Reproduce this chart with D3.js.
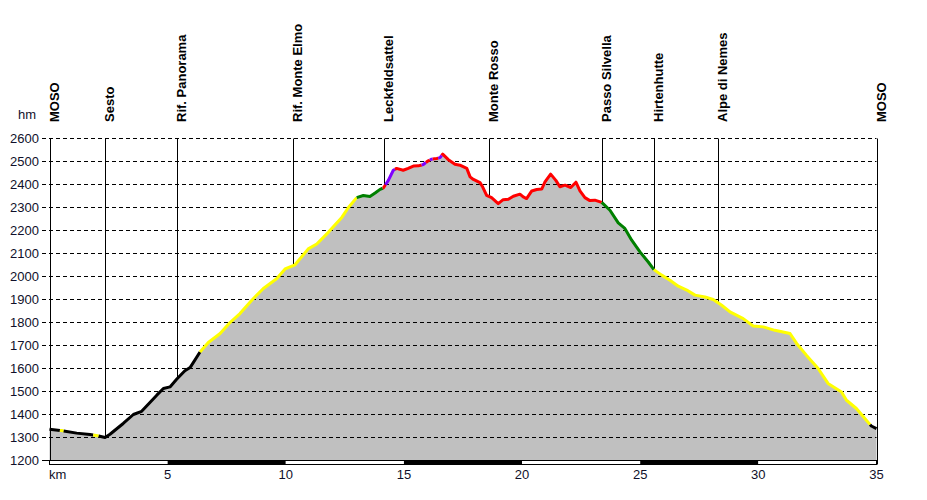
<!DOCTYPE html>
<html><head><meta charset="utf-8">
<script src="https://cdn.jsdelivr.net/npm/d3@7"></script>
<style>body{margin:0;background:#fff} svg{display:block}</style>
</head><body><svg id="c" width="927" height="500"></svg>
<script>
// ---- data ----
const distKm = [0, 0.52, 1.15, 1.71, 1.97, 2.35, 2.56, 3.12, 3.55, 3.90, 4.54, 4.82, 5.10, 5.38, 5.73, 5.95, 6.37, 6.72, 7.22, 7.64, 8.06, 8.56, 9.05, 9.61, 9.97, 10.39, 10.95, 11.31, 11.80, 12.01, 12.37, 12.65, 13.00, 13.28, 13.56, 13.78, 13.99, 14.13, 14.34, 14.55, 14.69, 14.97, 15.18, 15.40, 15.61, 15.82, 16.03, 16.17, 16.39, 16.53, 16.64, 16.88, 17.16, 17.37, 17.66, 17.80, 17.94, 18.22, 18.33, 18.50, 18.71, 18.99, 19.20, 19.42, 19.63, 19.91, 20.05, 20.19, 20.41, 20.62, 20.83, 20.97, 21.21, 21.43, 21.60, 21.82, 22.06, 22.28, 22.45, 22.66, 22.87, 23.08, 23.37, 23.72, 24.07, 24.35, 24.64, 24.99, 25.34, 25.58, 25.91, 26.26, 26.61, 26.97, 27.32, 27.74, 28.09, 28.45, 28.80, 29.36, 29.78, 30.21, 30.70, 31.34, 31.62, 32.04, 32.53, 32.95, 33.52, 33.73, 34.15, 34.57, 34.78, 35.0];
const elevM = [1336, 1330, 1319, 1313, 1309, 1300, 1314, 1361, 1400, 1414, 1484, 1513, 1520, 1553, 1590, 1604, 1672, 1713, 1752, 1800, 1839, 1897, 1948, 1990, 2033, 2051, 2120, 2141, 2192, 2216, 2257, 2300, 2343, 2352, 2348, 2363, 2379, 2385, 2418, 2462, 2470, 2462, 2470, 2480, 2481, 2487, 2503, 2510, 2513, 2517, 2532, 2508, 2488, 2484, 2470, 2433, 2422, 2408, 2390, 2353, 2343, 2317, 2334, 2336, 2349, 2358, 2346, 2339, 2372, 2378, 2380, 2411, 2445, 2418, 2390, 2397, 2387, 2410, 2372, 2343, 2330, 2332, 2322, 2288, 2233, 2209, 2158, 2107, 2063, 2030, 2006, 1984, 1958, 1941, 1919, 1911, 1900, 1875, 1846, 1817, 1785, 1781, 1766, 1752, 1709, 1657, 1600, 1535, 1498, 1462, 1426, 1375, 1350, 1339];
const segStartKm = [0, 0.44, 0.60, 1.85, 2.08, 6.37, 13.0, 14.10, 14.22, 14.62, 15.75, 15.93, 16.10, 16.22, 16.45, 16.60, 23.37, 25.58, 34.73];
const segColor = ["#000000", "#ffff00", "#000000", "#ffff00", "#000000", "#ffff00", "#008000", "#ff0000", "#8000ff", "#ff0000", "#8000ff", "#ff0000", "#8000ff", "#ff0000", "#8000ff", "#ff0000", "#008000", "#ffff00", "#000000"];
const waypointNames = ["MOSO", "Sesto", "Rif. Panorama", "Rif. Monte Elmo", "Leckfeldsattel", "Monte Rosso", "Passo Silvella", "Hirtenhutte", "Alpe di Nemes", "MOSO"];
const waypointKm = [0, 2.36, 5.38, 10.32, 14.17, 18.58, 23.39, 25.58, 28.30, 35];
const yTicks = [1200, 1300, 1400, 1500, 1600, 1700, 1800, 1900, 2000, 2100, 2200, 2300, 2400, 2500, 2600];
const xTicks = [5, 10, 15, 20, 25, 30, 35];
const barBreaks = [0, 5, 10, 15, 20, 25, 30, 35];

// ---- chart ----
const svg = d3.select("#c");
const x = d3.scaleLinear().domain([0, 35]).range([49.5, 876.5]);
const y = d3.scaleLinear().domain([1200, 2600]).range([460.5, 138.5]);
const pts = distKm.map((d, i) => [d, elevM[i]]);
const elevAt = k => {
  for (let i = 1; i < pts.length; i++) {
    if (k <= pts[i][0]) {
      const a = pts[i - 1], b = pts[i];
      const t = (k - a[0]) / (b[0] - a[0] || 1);
      return a[1] + t * (b[1] - a[1]);
    }
  }
  return pts[pts.length - 1][1];
};
const font = "'Liberation Sans', Arial, sans-serif";
const fs = "13px";

// fill
svg.append("path")
  .datum(pts)
  .attr("fill", "#c0c0c0")
  .attr("d", d3.area().x(d => x(d[0])).y0(y(1200)).y1(d => y(d[1])));

// grid lines
svg.append("g").selectAll("line").data(yTicks.filter(v => v > 1200)).join("line")
  .attr("x1", 42).attr("x2", 876.5)
  .attr("y1", d => y(d)).attr("y2", d => y(d))
  .attr("stroke", "#000").attr("stroke-width", 1).attr("stroke-dasharray", "4,3");
svg.append("line").attr("x1", 42).attr("x2", 49).attr("y1", y(1200)).attr("y2", y(1200))
  .attr("stroke", "#000");

// y labels
svg.append("g").selectAll("text").data(yTicks).join("text")
  .attr("x", 39).attr("y", d => y(d)).attr("dy", "0.36em")
  .attr("text-anchor", "end").attr("font-family", font).attr("font-size", fs)
  .attr("fill", "#10102a").text(d => d);
svg.append("text").attr("x", 36).attr("y", 119).attr("text-anchor", "end")
  .attr("font-family", font).attr("font-size", fs).attr("fill", "#10102a").text("hm");

// waypoint lines and labels
waypointKm.forEach((k, i) => {
  const px = Math.round(x(k)) + 0.5;
  svg.append("line").attr("x1", px).attr("x2", px)
    .attr("y1", y(2600)).attr("y2", (i === 0 || i === waypointKm.length - 1) ? 464.5 : y(elevAt(k)))
    .attr("stroke", "#000").attr("stroke-width", 1);
  svg.append("text")
    .attr("transform", `translate(${px - 0.5},122) rotate(-90)`)
    .attr("x", 0).attr("y", 8.5)
    .attr("font-family", font).attr("font-size", fs).attr("font-weight", "bold")
    .attr("fill", "#000").text(waypointNames[i]);
});

// colored profile segments
const lineGen = d3.line().x(d => x(d[0])).y(d => y(d[1]));
segStartKm.forEach((s, i) => {
  const e = i + 1 < segStartKm.length ? segStartKm[i + 1] : 35;
  const seg = [[s, elevAt(s)]].concat(pts.filter(p => p[0] > s && p[0] < e), [[e, elevAt(e)]]);
  svg.append("path").datum(seg)
    .attr("fill", "none").attr("stroke", segColor[i]).attr("stroke-width", 3)
    .attr("stroke-linejoin", "round").attr("d", lineGen);
});

// bottom bar
svg.append("g").selectAll("rect").data(barBreaks.slice(0, -1)).join("rect")
  .attr("x", d => x(d)).attr("y", 460.5)
  .attr("width", d => x(d + 5) - x(d)).attr("height", 4)
  .attr("fill", (d, i) => i % 2 ? "#000" : "#fff");
svg.append("rect").attr("x", 49.5).attr("y", 460.5).attr("width", 827).attr("height", 4)
  .attr("fill", "none").attr("stroke", "#000");

// x labels
svg.append("g").selectAll("text").data(xTicks).join("text")
  .attr("x", d => x(d)).attr("y", 479).attr("text-anchor", "middle")
  .attr("font-family", font).attr("font-size", fs).attr("fill", "#10102a").text(d => d);
svg.append("text").attr("x", 49).attr("y", 479)
  .attr("font-family", font).attr("font-size", fs).attr("fill", "#10102a").text("km");
</script></body></html>
